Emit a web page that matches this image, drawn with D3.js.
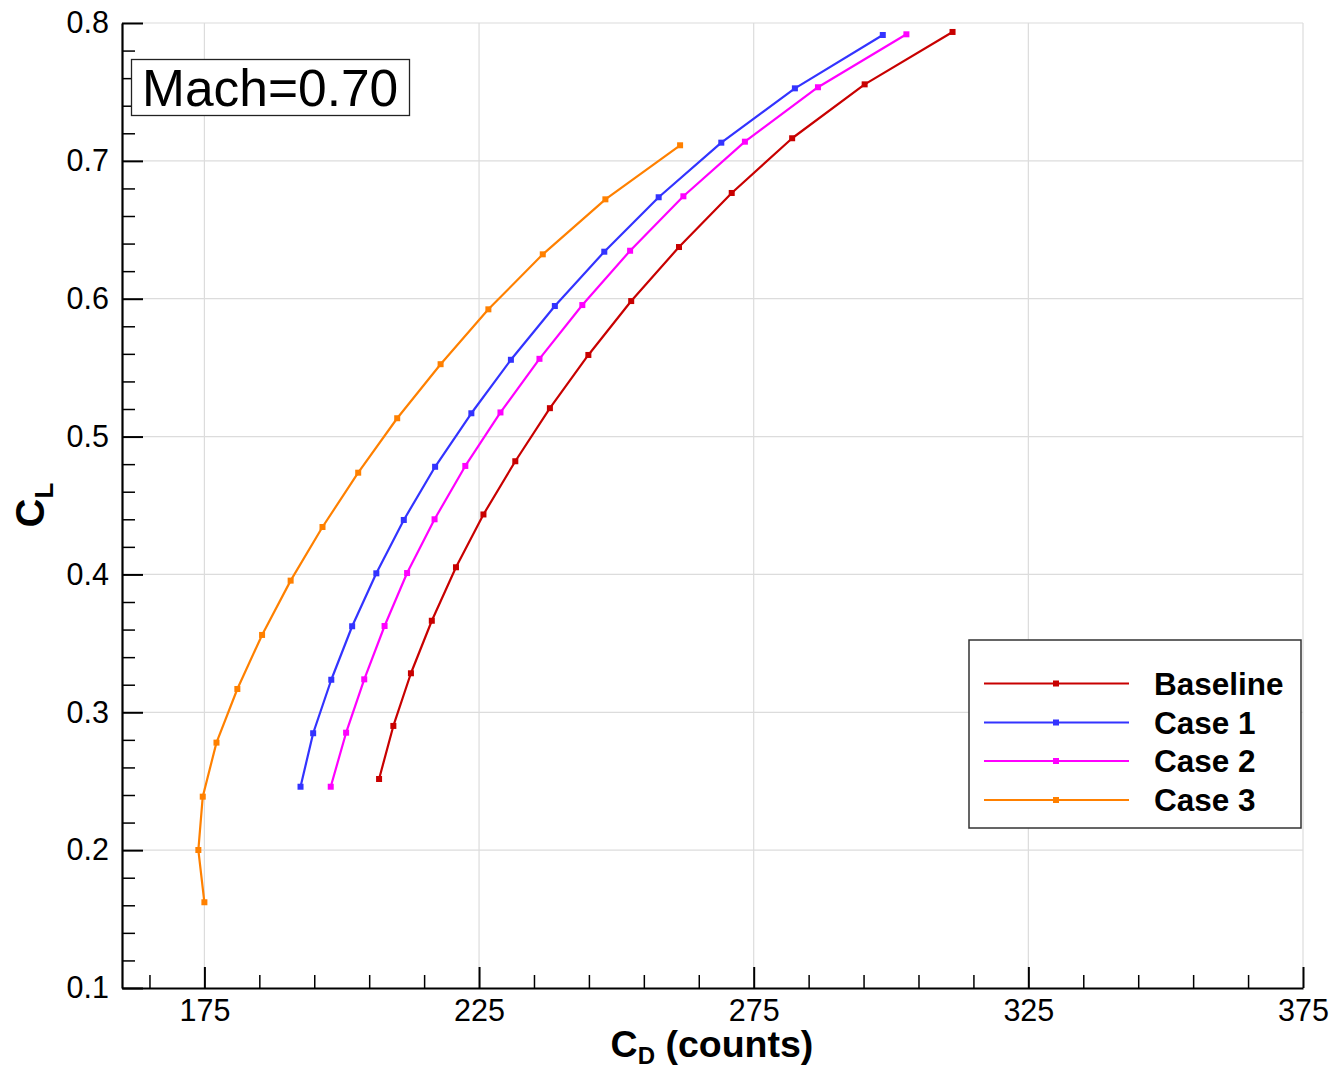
<!DOCTYPE html>
<html>
<head>
<meta charset="utf-8">
<script src="https://cdn.jsdelivr.net/npm/d3@7"></script>
<style>
  html, body { margin: 0; padding: 0; background: #fff; }
  svg { display: block; font-family: "Liberation Sans", Arial, Helvetica, sans-serif; }
</style>
</head>
<body>
<svg id="chart" width="1333" height="1068"></svg>
<script>
// Drag polar CD (counts) vs CL at Mach 0.70
const seriesNames = ["Baseline", "Case 1", "Case 2", "Case 3"];
const seriesColors = ["#c80000", "#3333ff", "#ff00ff", "#ff8000"];

const baselineCD = [206.8, 209.4, 212.6, 216.4, 220.8, 225.8, 231.6, 237.9, 244.9, 252.7, 261.4, 271.0, 282.0, 295.2, 311.2];
const baselineCL = [0.2516, 0.2901, 0.3283, 0.3664, 0.4052, 0.4435, 0.4821, 0.5206, 0.5592, 0.5983, 0.6375, 0.6767, 0.7164, 0.7555, 0.7935];

const case1CD = [192.5, 194.8, 198.1, 201.9, 206.3, 211.3, 217.0, 223.6, 230.8, 238.8, 247.8, 257.7, 269.1, 282.5, 298.5];
const case1CL = [0.2460, 0.2848, 0.3236, 0.3624, 0.4008, 0.4395, 0.4781, 0.5169, 0.5557, 0.5947, 0.6341, 0.6736, 0.7132, 0.7526, 0.7913];

const case2CD = [198.0, 200.8, 204.1, 207.8, 211.9, 216.9, 222.5, 228.9, 236.0, 243.8, 252.5, 262.2, 273.4, 286.7, 302.8];
const case2CL = [0.2460, 0.2852, 0.3239, 0.3626, 0.4010, 0.4400, 0.4787, 0.5175, 0.5564, 0.5954, 0.6348, 0.6743, 0.7139, 0.7534, 0.7918];

const case3CD = [175.0, 173.9, 174.7, 177.2, 181.0, 185.5, 190.7, 196.5, 203.0, 210.1, 218.0, 226.7, 236.6, 248.0, 261.6];
const case3CL = [0.1622, 0.2001, 0.2388, 0.2780, 0.3169, 0.3561, 0.3955, 0.4344, 0.4738, 0.5133, 0.5525, 0.5923, 0.6322, 0.6721, 0.7113];

const xMajorTicks = [175, 225, 275, 325, 375];
const yMajorTicks = [0.1, 0.2, 0.3, 0.4, 0.5, 0.6, 0.7, 0.8];
const xLabel = "C";
const xLabelSub = "D";
const xLabelRest = " (counts)";
const yLabel = "C";
const yLabelSub = "L";
const machText = "Mach=0.70";

const seriesCD = [baselineCD, case1CD, case2CD, case3CD];
const seriesCL = [baselineCL, case1CL, case2CL, case3CL];

const svg = d3.select("#chart");
const plotLeft = 122, plotRight = 1303, plotTop = 23, plotBottom = 988;

const x = d3.scaleLinear().domain([160, 375]).range([plotLeft, plotRight]);
const y = d3.scaleLinear().domain([0.1, 0.8]).range([plotBottom, plotTop]);

// grid
const grid = svg.append("g").attr("stroke", "#dcdcdc").attr("stroke-width", 1.2);
grid.selectAll("line.v").data(xMajorTicks).join("line").attr("class", "v")
  .attr("x1", d => x(d)).attr("x2", d => x(d))
  .attr("y1", plotTop).attr("y2", plotBottom);
grid.selectAll("line.h").data(yMajorTicks.slice(1)).join("line").attr("class", "h")
  .attr("x1", plotLeft).attr("x2", plotRight)
  .attr("y1", d => y(d)).attr("y2", d => y(d));

// minor ticks
const xMinor = d3.range(165, 375, 10).filter(v => !xMajorTicks.includes(v));
const yMinor = d3.range(0.12, 0.8, 0.02).filter(v => yMajorTicks.every(t => Math.abs(t - v) > 1e-6));

const xAxisMinor = svg.append("g").attr("transform", `translate(0,${plotBottom})`)
  .call(d3.axisBottom(x).tickValues(xMinor).tickSize(-13).tickSizeOuter(0).tickFormat(""));
const yAxisMinor = svg.append("g").attr("transform", `translate(${plotLeft},0)`)
  .call(d3.axisLeft(y).tickValues(yMinor).tickSize(-13).tickSizeOuter(0).tickFormat(""));
[xAxisMinor, yAxisMinor].forEach(g => {
  g.select(".domain").remove();
  g.selectAll(".tick line").attr("stroke", "#000").attr("stroke-width", 1.5);
});

// major axes
const xAxis = svg.append("g").attr("transform", `translate(0,${plotBottom})`)
  .call(d3.axisBottom(x).tickValues(xMajorTicks).tickSize(-21).tickSizeOuter(0).tickPadding(11).tickFormat(d3.format("d")));
const yAxis = svg.append("g").attr("transform", `translate(${plotLeft},0)`)
  .call(d3.axisLeft(y).tickValues(yMajorTicks).tickSize(-21).tickSizeOuter(0).tickPadding(13).tickFormat(d3.format(".1f")));
[xAxis, yAxis].forEach(g => {
  g.select(".domain").attr("stroke", "#000").attr("stroke-width", 2.2);
  g.selectAll(".tick line").attr("stroke", "#000").attr("stroke-width", 2);
  g.selectAll(".tick text").attr("fill", "#000").attr("font-size", 30.5)
    .attr("font-family", "'Liberation Sans', Arial, sans-serif");
});

// series
const line = d3.line().x(d => x(d[0])).y(d => y(d[1]));
seriesNames.forEach((name, i) => {
  const pts = seriesCD[i].map((v, j) => [v, seriesCL[i][j]]);
  const g = svg.append("g");
  g.append("path").datum(pts).attr("d", line)
    .attr("fill", "none").attr("stroke", seriesColors[i]).attr("stroke-width", 2.2)
    .attr("stroke-linejoin", "round");
  g.selectAll("rect").data(pts).join("rect")
    .attr("x", d => x(d[0]) - 3).attr("y", d => y(d[1]) - 3)
    .attr("width", 6).attr("height", 6).attr("fill", seriesColors[i]);
});

// Mach box
svg.append("rect").attr("x", 131.5).attr("y", 59.5).attr("width", 278).attr("height", 56)
  .attr("fill", "#fff").attr("stroke", "#222").attr("stroke-width", 1.3);
svg.append("text").attr("x", 142).attr("y", 106).attr("font-size", 51.5).attr("fill", "#000")
  .text(machText);

// legend
const lg = svg.append("g");
lg.append("rect").attr("x", 969).attr("y", 640).attr("width", 332).attr("height", 188)
  .attr("fill", "#fff").attr("stroke", "#333").attr("stroke-width", 1.5);
const rowY = [683.5, 722.5, 761, 800];
seriesNames.forEach((name, i) => {
  lg.append("line").attr("x1", 984).attr("x2", 1129).attr("y1", rowY[i]).attr("y2", rowY[i])
    .attr("stroke", seriesColors[i]).attr("stroke-width", 2.2);
  lg.append("rect").attr("x", 1053).attr("y", rowY[i] - 3).attr("width", 6).attr("height", 6)
    .attr("fill", seriesColors[i]);
  lg.append("text").attr("x", 1154).attr("y", rowY[i] + 11).attr("font-size", 31.5)
    .attr("font-weight", "bold").attr("fill", "#000").text(name);
});

// axis titles
const xt = svg.append("text").attr("x", 712).attr("y", 1057).attr("text-anchor", "middle")
  .attr("font-size", 37.5).attr("font-weight", "bold").attr("fill", "#000");
xt.append("tspan").text(xLabel);
xt.append("tspan").attr("font-size", 24).attr("dy", 7).text(xLabelSub);
xt.append("tspan").attr("dy", -7).text(xLabelRest);

const yt = svg.append("text").attr("transform", "translate(44,505) rotate(-90)")
  .attr("text-anchor", "middle").attr("font-size", 40).attr("font-weight", "bold").attr("fill", "#000");
yt.append("tspan").text(yLabel);
yt.append("tspan").attr("font-size", 26).attr("dy", 9).text(yLabelSub);
</script>
</body>
</html>
